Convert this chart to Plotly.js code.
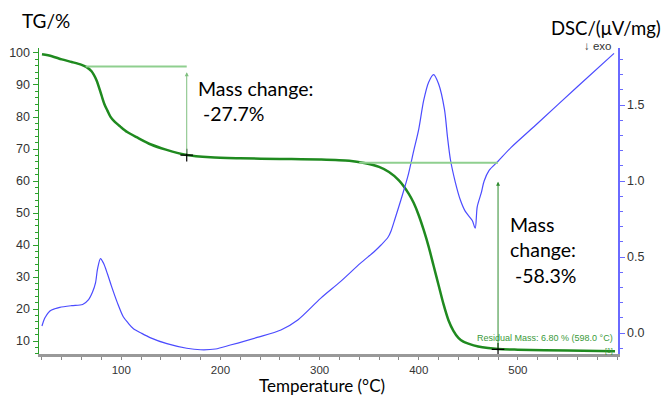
<!DOCTYPE html>
<html><head><meta charset="utf-8">
<script src="https://cdn.plot.ly/plotly-3.0.1.min.js"></script>
<style>html,body{margin:0;padding:0;background:#fff}#chart{width:666px;height:397px}</style>
</head><body><div id="chart"></div>
<script>
// TG curve (left axis, %)
const tgTemp = [20,30,40,50,60,65,70,75,80,83,86,89,93,99,106,116,130,145,166,190,220,260,300,330,345,360,370,380,390,395,400,405,410,415,420,425,430,435,440,445,450,460,470,480,500,550,598];
const tgVal  = [99.6,99.0,98.0,97.2,96.3,95.6,94.3,91.5,86.8,84.0,82.0,80.1,78.6,77.0,75.3,73.6,71.4,69.8,68.1,67.4,67.1,66.9,66.7,66.3,65.6,64.4,62.8,60.2,56.0,53.1,49.3,44.7,39.5,33.5,27.5,21.5,16.5,13.2,11.0,9.8,9.2,8.3,7.8,7.5,7.3,7.0,6.8];
// DSC curve (right axis, µV/mg)
const dscTemp = [20,23,28,33,38,50,61,67,71,74,76,79,82,86,90,96,102,107,112,120,129,146,166,180,195,210,237,261,278,301,321,341,355,362,369,372,376,382,389,395,400,405,410,415,420,426,429,432,437,442,447,454,457,459,463,466,471,480,493,520,560,597];
const dscVal  = [0.046,0.10,0.145,0.16,0.169,0.180,0.188,0.22,0.27,0.33,0.42,0.49,0.46,0.39,0.31,0.20,0.107,0.065,0.03,0.0,-0.03,-0.07,-0.10,-0.11,-0.105,-0.079,-0.029,0.02,0.086,0.228,0.338,0.458,0.535,0.579,0.63,0.67,0.75,0.875,1.03,1.2,1.34,1.53,1.65,1.70,1.64,1.47,1.29,1.14,0.99,0.875,0.80,0.74,0.69,0.83,0.92,1.0,1.07,1.13,1.22,1.38,1.62,1.84];
// Step analysis markers
const stepTemp = [166,480];
const stepTG = [68.1,7.4];
const stepLevel = [95.8,65.7];
const stepStart = [64,340];
const stepArrowTop = [94,59.8];
const stepLabels = ["Mass change:<br> -27.7%","Mass<br>change:<br> -58.3%"];
const xTicks = [100,200,300,400,500];
const yTicks = [10,20,30,40,50,60,70,80,90,100];
const y2Ticks = [0,0.5,1.0,1.5];
const y2Labels = ["0.0","0.5","1.0","1.5"];

const green = '#1f8a1f', lightGreen = '#8fcf8f', blue = '#4b4bff';
const traces = [
  {x: tgTemp, y: tgVal, type:'scatter', mode:'lines', line:{color:green, width:2.5, shape:'spline', smoothing:0.8}, yaxis:'y', hoverinfo:'skip'},
  {x: dscTemp, y: dscVal, type:'scatter', mode:'lines', line:{color:blue, width:1.2, shape:'spline', smoothing:0.8}, yaxis:'y2', hoverinfo:'skip'},
  {x: stepTemp, y: stepTG, type:'scatter', mode:'markers', marker:{symbol:'cross-thin-open', size:9, color:'#000', line:{width:1.2, color:'#000'}}, yaxis:'y'}
];
const shapes = [];
for (let i=0;i<2;i++){
  shapes.push({type:'line', xref:'x', yref:'y', x0:stepStart[i], x1:stepTemp[i], y0:stepLevel[i], y1:stepLevel[i], line:{color:lightGreen, width:2}});
}
const txt = 'Lato, Liberation Sans';
const annotations = [
  {xref:'paper', yref:'paper', x:-0.032, y:1.09, xanchor:'left', yanchor:'middle', text:'TG/%', showarrow:false, font:{family:txt, size:19, color:'#000'}},
  {xref:'paper', yref:'paper', x:1.078, y:1.065, xanchor:'right', yanchor:'middle', text:'DSC/(μV/mg)', showarrow:false, font:{family:txt, size:18.5, color:'#000'}},
  {xref:'paper', yref:'paper', x:0.993, y:1.005, xanchor:'right', yanchor:'middle', text:'↓ exo', showarrow:false, font:{family:'Liberation Sans', size:11.5, color:'#333'}},
  {xref:'paper', yref:'paper', x:0.489, y:-0.1405, xanchor:'center', yanchor:'bottom', borderpad:0, text:'Temperature (°C)', showarrow:false, font:{family:txt, size:17, color:'#000'}},
  {xref:'x', yref:'y', x:175, y:93, xanchor:'left', yanchor:'top', align:'left', text:stepLabels[0], showarrow:false, font:{family:txt, size:19.5, color:'#000'}},
  {xref:'x', yref:'y', x:490, y:50.5, xanchor:'left', yanchor:'top', align:'left', text:stepLabels[1], showarrow:false, font:{family:txt, size:19.5, color:'#000'}},
  {xref:'x', yref:'y', x:598, y:8.9, xanchor:'right', yanchor:'bottom', text:'Residual Mass: 6.80 % (598.0 °C)', showarrow:false, font:{family:'Liberation Sans', size:9, color:'#3a9a3a'}},
  {xref:'x', yref:'y', x:598, y:8.9, xanchor:'right', yanchor:'top', text:'[1]', showarrow:false, font:{family:'Liberation Sans', size:7, color:'#3a9a3a'}},
  {xref:'x', yref:'y', axref:'x', ayref:'y', x:stepTemp[0], y:stepArrowTop[0], ax:stepTemp[0], ay:stepTG[0], text:'', showarrow:true, arrowhead:2, arrowsize:0.8, arrowwidth:1, arrowcolor:'#7fbf7f', standoff:0, startstandoff:0},
  {xref:'x', yref:'y', axref:'x', ayref:'y', x:stepTemp[1], y:stepArrowTop[1], ax:stepTemp[1], ay:stepTG[1], text:'', showarrow:true, arrowhead:2, arrowsize:0.8, arrowwidth:1, arrowcolor:'#2e8b2e', standoff:0, startstandoff:0}
];
const layout = {
  width:666, height:397, margin:{l:39, r:48, t:48, b:43},
  paper_bgcolor:'#fff', plot_bgcolor:'#fff', showlegend:false,
  font:{family:'Liberation Sans, Arial', size:12, color:'#333'},
  xaxis:{range:[17,601], tickvals:xTicks, ticktext:xTicks.map(String), showgrid:false, zeroline:false,
    showline:true, linecolor:'#999', linewidth:3, ticks:'outside', ticklen:3, tickcolor:'#888', tickwidth:1,
    minor:{dtick:20, tick0:0, ticks:'outside', ticklen:3, tickcolor:'#888', showgrid:false},
    tickfont:{size:11.5, color:'#333'}},
  yaxis:{range:[5.94,101.56], tickvals:yTicks, ticktext:yTicks.map(String), showgrid:false, zeroline:false,
    showline:true, linecolor:'#2ca02c', linewidth:1.5, ticks:'outside', ticklen:5, tickcolor:'#2ca02c',
    minor:{dtick:2, tick0:0, ticks:'outside', ticklen:3, tickcolor:'#2ca02c', showgrid:false},
    tickfont:{size:12.5, color:'#333'}},
  yaxis2:{range:[-0.138,1.875], overlaying:'y', side:'right', tickvals:y2Ticks, ticktext:y2Labels, showgrid:false, zeroline:false,
    showline:true, linecolor:'#6a6aff', linewidth:1.5, ticks:'outside', ticklen:5, tickcolor:'#6a6aff',
    minor:{dtick:0.1, tick0:0, ticks:'outside', ticklen:3, tickcolor:'#6a6aff', showgrid:false},
    tickfont:{size:12.5, color:'#333'}},
  shapes:shapes, annotations:annotations
};
Plotly.newPlot('chart', traces, layout, {staticPlot:true, displayModeBar:false});
</script></body></html>
